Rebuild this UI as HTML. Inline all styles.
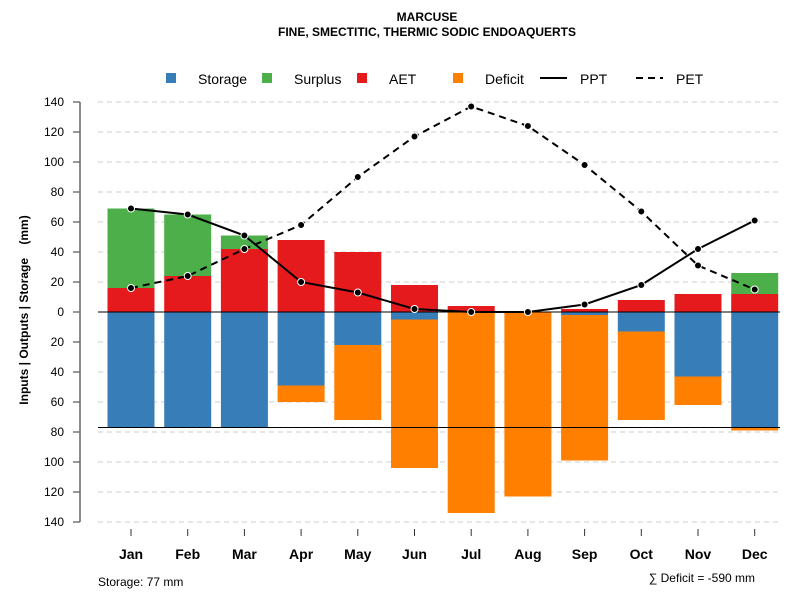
<!DOCTYPE html>
<html><head><meta charset="utf-8"><style>
body{margin:0;background:#fff;font-family:"Liberation Sans",sans-serif}
svg text{font-family:"Liberation Sans",sans-serif}
</style></head><body>
<svg id="chart" width="800" height="600" viewBox="0 0 800 600">
<text x="427" y="21" text-anchor="middle" font-size="12" font-weight="bold">MARCUSE</text>
<text x="427" y="36" text-anchor="middle" font-size="12" font-weight="bold">FINE, SMECTITIC, THERMIC SODIC ENDOAQUERTS</text>
<g id="legend">
<rect x="166" y="73" width="10" height="10" fill="#377eb8"/><text x="198" y="84" font-size="14">Storage</text>
<rect x="262" y="73" width="10" height="10" fill="#4daf4a"/><text x="294" y="84" font-size="14">Surplus</text>
<rect x="357" y="73" width="10" height="10" fill="#e41a1c"/><text x="389" y="84" font-size="14">AET</text>
<rect x="453" y="73" width="10" height="10" fill="#ff7f00"/><text x="485" y="84" font-size="14">Deficit</text>
<line x1="540" y1="78" x2="567" y2="78" stroke="#000" stroke-width="2"/><text x="580" y="84" font-size="14">PPT</text>
<line x1="636" y1="78" x2="663" y2="78" stroke="#000" stroke-width="2" stroke-dasharray="7,5"/><text x="676" y="84" font-size="14">PET</text>
</g>
<g id="grid"></g><g id="bars"></g><g id="lines"></g><g id="axes"></g>
<text transform="translate(28,310) rotate(-90)" text-anchor="middle" font-size="12" font-weight="bold" xml:space="preserve">Inputs | Outputs | Storage    (mm)</text>
<text x="98" y="586" font-size="12">Storage: 77 mm</text>
<text x="755" y="582" text-anchor="end" font-size="12">∑ Deficit = -590 mm</text>
</svg>
<script>
const months=["Jan","Feb","Mar","Apr","May","Jun","Jul","Aug","Sep","Oct","Nov","Dec"];
const ppt=[69,65,51,20,13,2,0,0,5,18,42,61];
const pet=[16,24,42,58,90,117,137,124,98,67,31,15];
const aet=[16,24,42,48,40,18,4,0,2,8,12,12];
const surplus=[53,41,9,0,0,0,0,0,0,0,0,14];
const storage=[77,77,77,49,22,5,0,0,2,13,43,77];
const deficit=[0,0,0,11,50,99,134,123,97,59,19,2];
const yTicks=[140,120,100,80,60,40,20,0,20,40,60,80,100,120,140];
const storageCap=77;
const NS="http://www.w3.org/2000/svg";
const y=v=>312-v*1.5;
const x=i=>131+i*56.7;
const bw=47;
function mk(t,a,p){const e=document.createElementNS(NS,t);for(const k in a)e.setAttribute(k,a[k]);document.getElementById(p).appendChild(e);return e;}
yTicks.forEach((t,i)=>{const v=140-i*20;
 const g=mk('line',{x1:98,x2:780,y1:y(v),y2:y(v),stroke:'#cccccc','stroke-dasharray':'5,4'},'grid');
 
 
 const tk=mk('line',{x1:73,x2:80,y1:y(v),y2:y(v),stroke:'#333'},'axes');
 
 
 const tx=mk('text',{x:64,y:y(v)+4,'text-anchor':'end','font-size':12},'axes');tx.textContent=t;
 
 
});
const ax=mk('line',{x1:80,x2:80,y1:y(140),y2:y(-140),stroke:'#666','stroke-width':1.5},'axes');


months.forEach((m,i)=>{const cx=x(i),l=cx-bw/2;
 const r=(v0,v1,c,n)=>{if(v1===v0)return;const e=mk('rect',{x:l,y:Math.min(y(v0),y(v1)),width:bw,height:Math.abs(y(v1)-y(v0)),fill:c},'bars');
  
  };
 r(0,aet[i],'#e41a1c','aet-bar');
 r(aet[i],aet[i]+surplus[i],'#4daf4a','surplus-bar');
 r(0,-storage[i],'#377eb8','storage-bar');
 r(-storage[i],-storage[i]-deficit[i],'#ff7f00','deficit-bar');
 const tk=mk('line',{x1:cx,x2:cx,y1:529,y2:536,stroke:'#333'},'axes');
 
 
 const t=mk('text',{x:cx,y:559,'text-anchor':'middle','font-size':14,'font-weight':'bold'},'axes');t.textContent=m;
 
 
});
const z=mk('line',{x1:98,x2:780,y1:y(0),y2:y(0),stroke:'#000'},'bars');


const sc=mk('line',{x1:98,x2:780,y1:y(-storageCap),y2:y(-storageCap),stroke:'#000'},'bars');


[[ppt,'ppt',''],[pet,'pet','7,5']].forEach(([d,n,da])=>{
 const p=mk('polyline',{points:d.map((v,i)=>x(i)+','+y(v)).join(' '),fill:'none',stroke:'#000','stroke-width':2,'stroke-dasharray':da},'lines');
 
 
 d.forEach((v,i)=>{const c=mk('circle',{cx:x(i),cy:y(v),r:3.5,fill:'#000',stroke:'#fff','stroke-width':1},'lines');
  
  });
});
</script>
</body></html>
